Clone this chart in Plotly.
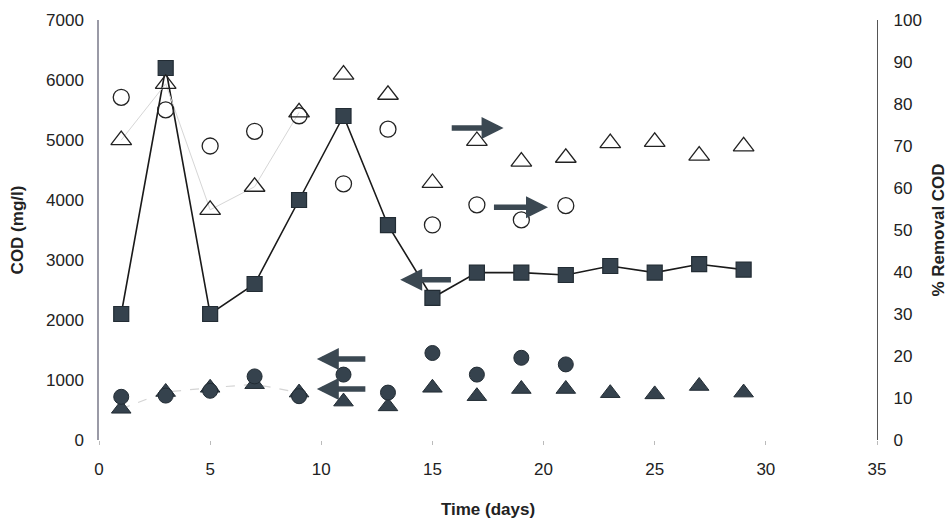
import plotly.graph_objects as go

# Sampling days
days = [1, 3, 5, 7, 9, 11, 13, 15, 17, 19, 21, 23, 25, 27, 29]
days_short = [1, 3, 5, 7, 9, 11, 13, 15, 17, 19, 21]

# COD concentrations (mg/l), left axis
influent_cod = [2100, 6200, 2100, 2600, 4000, 5400, 3580, 2370, 2790, 2790, 2750, 2900, 2790, 2930, 2840]
effluent_cod_a = [720, 740, 820, 1060, 730, 1090, 790, 1450, 1090, 1370, 1260]
effluent_cod_b = [520, 800, 870, 930, 790, 640, 560, 870, 730, 850, 850, 780, 760, 900, 790]

# COD removal (%), right axis
removal_b = [71.4, 84.8, 54.8, 60.3, 78.0, 87.0, 82.2, 61.2, 71.2, 66.3, 67.2, 70.7, 71.0, 67.7, 69.9]
removal_a = [81.6, 78.6, 70.0, 73.5, 77.2, 61.0, 74.0, 51.2, 56.0, 52.4, 55.8]

# Arrow annotations: (tail x, head x, y on COD axis)
arrow_tail_x = [15.8, 17.7, 15.9, 12.05, 12.05]
arrow_head_x = [18.2, 20.2, 13.55, 9.8, 9.8]
arrow_y = [5200, 3880, 2670, 1350, 850]

font_family = "Liberation Sans, Arial, sans-serif"
dark = "#222c34"
fill = "#35424d"

fig = go.Figure()

# faint guide lines
fig.add_trace(go.Scatter(
    x=days[:5], y=removal_b[:5], yaxis="y2", mode="lines",
    line=dict(color="#d6d6d6", width=1), hoverinfo="skip", showlegend=False))
fig.add_trace(go.Scatter(
    x=days[:5], y=effluent_cod_b[:5], mode="lines",
    line=dict(color="#d4d4d4", width=1.2, dash="dash"), hoverinfo="skip", showlegend=False))

# influent COD
fig.add_trace(go.Scatter(
    x=days, y=influent_cod, mode="lines+markers",
    line=dict(color="#1a1a1a", width=1.6),
    marker=dict(symbol="square", size=15, color=fill, line=dict(color=dark, width=1.2)),
    showlegend=False))

# effluent COD
fig.add_trace(go.Scatter(
    x=days, y=effluent_cod_b, mode="markers",
    marker=dict(symbol="triangle-up", size=17, color=fill, line=dict(color=dark, width=1)),
    showlegend=False))
fig.add_trace(go.Scatter(
    x=days_short, y=effluent_cod_a, mode="markers",
    marker=dict(symbol="circle", size=15, color=fill, line=dict(color=dark, width=1)),
    showlegend=False))

# COD removal
fig.add_trace(go.Scatter(
    x=days, y=removal_b, yaxis="y2", mode="markers",
    marker=dict(symbol="triangle-up-open", size=18, color="#222222", line=dict(width=1.3)),
    showlegend=False))
fig.add_trace(go.Scatter(
    x=days_short, y=removal_a, yaxis="y2", mode="markers",
    marker=dict(symbol="circle-open", size=16, color="#222222", line=dict(width=1.3)),
    showlegend=False))

for tx, hx, yy in zip(arrow_tail_x, arrow_head_x, arrow_y):
    fig.add_annotation(
        x=hx, y=yy, ax=tx, ay=yy, xref="x", yref="y", axref="x", ayref="y",
        showarrow=True, arrowhead=2, arrowsize=0.8, arrowwidth=5.5,
        arrowcolor="#3b4852", text="")

fig.update_layout(
    width=948, height=521,
    margin=dict(l=99, r=71, t=20, b=81, autoexpand=False),
    paper_bgcolor="white", plot_bgcolor="white",
    font=dict(family=font_family, size=17, color="#222222"),
    xaxis=dict(
        range=[0, 35], dtick=5, showgrid=False, zeroline=False, showline=False,
        ticks="outside", ticklen=4, tickcolor="#bbbbbb", tickwidth=1,
        ticklabelstandoff=10, tickfont=dict(size=17), automargin=False,
        title=dict(text="<b>Time (days)</b>", font=dict(size=17), standoff=24)),
    yaxis=dict(
        range=[0, 7000], dtick=1000, showgrid=False, zeroline=False,
        showline=True, linecolor="#9a9aa6", linewidth=1.5, ticks="",
        ticklabelstandoff=10, tickfont=dict(size=17), automargin=False,
        title=dict(text="<b>COD (mg/l)</b>", font=dict(size=17), standoff=18)),
    yaxis2=dict(
        range=[0, 100], dtick=10, overlaying="y", side="right",
        showgrid=False, zeroline=False, showline=True,
        linecolor="#555555", linewidth=1.2, ticks="",
        ticklabelstandoff=12, tickfont=dict(size=17), automargin=False,
        title=dict(text="<b>% Removal COD</b>", font=dict(size=17), standoff=12)),
)

fig.write_html("out.html")
